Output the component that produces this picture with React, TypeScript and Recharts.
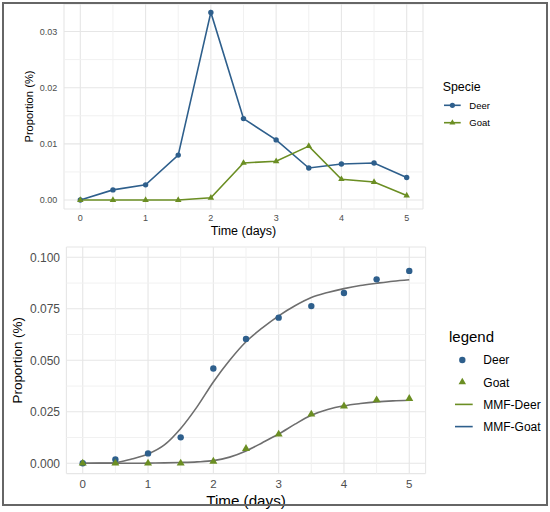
import {
  LineChart, ComposedChart, Line, Scatter, XAxis, YAxis, CartesianGrid,
  ReferenceLine, Legend, Label,
} from 'recharts'

// sampling days
const days = [0, 0.5, 1, 1.5, 2, 2.5, 3, 3.5, 4, 4.5, 5]

// top panel: proportion per sampling day
const deerDaily = [0, 0.0018, 0.0027, 0.0080, 0.0334, 0.0145, 0.0107, 0.0057, 0.0064, 0.0066, 0.0040]
const goatDaily = [0, 0, 0, 0, 0.0004, 0.0066, 0.0069, 0.0096, 0.0037, 0.0032, 0.0008]

// bottom panel: cumulative observed proportion
const deerCum = [0, 0.0019, 0.0048, 0.0126, 0.0460, 0.0604, 0.0707, 0.0763, 0.0827, 0.0893, 0.0934]
const goatCum = [0, 0, 0, 0, 0.0009, 0.0071, 0.0141, 0.0238, 0.0277, 0.0307, 0.0314]

const fitDays = [0, 0.25, 0.5, 0.75, 1, 1.25, 1.5, 1.75, 2, 2.25, 2.5, 2.75, 3, 3.25, 3.5, 3.75, 4, 4.25, 4.5, 4.75, 5]
const deerFit = [0, 0.0001, 0.0003, 0.0021, 0.0045, 0.0089, 0.0169, 0.0274, 0.0395, 0.0500, 0.0590, 0.0657, 0.0716, 0.0765, 0.0805, 0.0829, 0.0848, 0.0863, 0.0874, 0.0884, 0.0891]
const goatFit = [0, 0, 0, 0, 0.0001, 0.0002, 0.0004, 0.0007, 0.0013, 0.0030, 0.0060, 0.0100, 0.0142, 0.0190, 0.0233, 0.0261, 0.0279, 0.0290, 0.0298, 0.0303, 0.0306]

const xTicks = [0, 1, 2, 3, 4, 5]
const xMinor = [0.5, 1.5, 2.5, 3.5, 4.5]
const topTicks = [0, 0.01, 0.02, 0.03]
const topMinor = [0.005, 0.015, 0.025]
const botTicks = [0, 0.025, 0.05, 0.075, 0.1]
const botMinor = [0.0125, 0.0375, 0.0625, 0.0875]

const BLUE = '#2e5f8c'
const GREEN = '#6b8e23'
const FIT = '#6e6e6e'
const GRID = '#e6e6e6'
const GRID_MINOR = '#f1f1f1'
const TICK = '#4d4d4d'
const FONT = '"Liberation Sans", Arial, sans-serif'

const topRows = days.map((t, i) => ({ t, deer: deerDaily[i], goat: goatDaily[i] }))
const obsRows = days.map((t, i) => ({ t, deer: deerCum[i], goat: goatCum[i] }))
const fitRows = fitDays.map((t, i) => ({ t, deer: deerFit[i], goat: goatFit[i] }))

function triPath(cx: number, cy: number, side: number) {
  const top = cy - side * 0.577
  const bot = cy + side * 0.289
  return `M${cx},${top}L${cx + side / 2},${bot}L${cx - side / 2},${bot}Z`
}

const topLegend = [
  { name: 'Deer', color: BLUE, shape: 'circle' },
  { name: 'Goat', color: GREEN, shape: 'triangle' },
]
const botLegend = [
  { name: 'Deer', color: BLUE, shape: 'circle' },
  { name: 'Goat', color: GREEN, shape: 'triangle' },
  { name: 'MMF-Deer', color: GREEN, shape: 'line' },
  { name: 'MMF-Goat', color: BLUE, shape: 'line' },
]

function TopKey() {
  return (
    <svg width={110} height={60} style={{ display: 'block', fontFamily: FONT }}>
      <text x={6.7} y={17.2} fontSize={12.4} fill="#000">Specie</text>
      {topLegend.map((d, i) => {
        const y = 31.3 + i * 17.4
        return (
          <g key={d.name}>
            <line x1={8} x2={24.7} y1={y} y2={y} stroke={d.color} strokeWidth={1.6} />
            {d.shape === 'circle'
              ? <circle cx={16.4} cy={y} r={2.6} fill={d.color} />
              : <path d={triPath(16.4, y, 6)} fill={d.color} />}
            <text x={33.3} y={y + 3.4} fontSize={9.5} fill="#000">{d.name}</text>
          </g>
        )
      })}
    </svg>
  )
}

function BottomKey() {
  return (
    <svg width={110} height={120} style={{ display: 'block', fontFamily: FONT }}>
      <text x={9} y={22.1} fontSize={15} fill="#000">legend</text>
      {botLegend.map((d, i) => {
        const y = 40 + i * 22.2
        return (
          <g key={d.name}>
            {d.shape === 'circle' && <circle cx={22.3} cy={y} r={3.2} fill={d.color} />}
            {d.shape === 'triangle' && <path d={triPath(22.3, y, 7.5)} fill={d.color} />}
            {d.shape === 'line' && <line x1={15} x2={32.7} y1={y} y2={y} stroke={d.color} strokeWidth={1.6} />}
            <text x={43.3} y={y + 4.3} fontSize={12} fill="#000">{d.name}</text>
          </g>
        )
      })}
    </svg>
  )
}

function TopChart() {
  return (
    <LineChart width={550} height={240} data={topRows} margin={{ top: 4, right: 127, bottom: 0, left: 0 }} style={{ fontFamily: FONT }}>
      <CartesianGrid stroke={GRID} strokeWidth={1.1} />
      {xMinor.map(v => <ReferenceLine key={`vx${v}`} x={v} stroke={GRID_MINOR} strokeWidth={1} />)}
      {topMinor.map(v => <ReferenceLine key={`hy${v}`} y={v} stroke={GRID_MINOR} strokeWidth={1} />)}
      <XAxis
        dataKey="t" type="number" domain={[-0.25, 5.25]} ticks={xTicks} interval={0}
        height={31} axisLine={false} tickLine={false} tickSize={0} tickMargin={5.5}
        tick={{ fontSize: 9, fill: TICK }}
      >
        <Label value="Time (days)" position="insideBottom" offset={5.5} fontSize={12.5} fill="#000" />
      </XAxis>
      <YAxis
        type="number" domain={[-0.0016, 0.0349]} ticks={topTicks} allowDataOverflow
        width={64} axisLine={false} tickLine={false} tickSize={0} tickMargin={6.7}
        tick={{ fontSize: 9, fill: TICK }} tickFormatter={(v: number) => v.toFixed(2)}
      >
        <Label value="Proportion (%)" angle={-90} position="insideLeft" offset={29.5} fontSize={11.2} fill="#000" style={{ textAnchor: 'middle' }} />
      </YAxis>
      <Line
        dataKey="deer" name="Deer" stroke={BLUE} strokeWidth={1.6} isAnimationActive={false}
        dot={{ r: 2.7, fill: BLUE, stroke: BLUE, strokeWidth: 0 }} activeDot={false}
      />
      <Line
        dataKey="goat" name="Goat" stroke={GREEN} strokeWidth={1.6} isAnimationActive={false}
        dot={(p: any) => <path key={`g${p.index}`} d={triPath(p.cx, p.cy, 6.5)} fill={GREEN} />}
        activeDot={false}
      />
      <Legend layout="vertical" align="center" verticalAlign="middle" wrapperStyle={{ left: 436, top: 74, width: 110 }} content={() => <TopKey />} />
    </LineChart>
  )
}

function BottomChart() {
  return (
    <ComposedChart width={550} height={272} margin={{ top: 7, right: 124.4, bottom: 0, left: 0 }} style={{ fontFamily: FONT }}>
      <CartesianGrid stroke={GRID} strokeWidth={1.1} />
      {xMinor.map(v => <ReferenceLine key={`vx${v}`} x={v} stroke={GRID_MINOR} strokeWidth={1} />)}
      {botMinor.map(v => <ReferenceLine key={`hy${v}`} y={v} stroke={GRID_MINOR} strokeWidth={1} />)}
      <XAxis
        dataKey="t" type="number" domain={[-0.25, 5.25]} ticks={xTicks} interval={0}
        height={38.4} axisLine={false} tickLine={false} tickSize={0} tickMargin={6.2}
        tick={{ fontSize: 11.5, fill: TICK }}
      >
        <Label value="Time (days)" position="insideBottom" offset={6.4} fontSize={15.2} fill="#000" />
      </XAxis>
      <YAxis
        type="number" domain={[-0.005, 0.105]} ticks={botTicks} allowDataOverflow
        width={66.4} axisLine={false} tickLine={false} tickSize={0} tickMargin={6.4}
        tick={{ fontSize: 12, fill: TICK }} tickFormatter={(v: number) => v.toFixed(3)}
      >
        <Label value="Proportion (%)" angle={-90} position="insideLeft" offset={17.5} fontSize={13.4} fill="#000" style={{ textAnchor: 'middle' }} />
      </YAxis>
      <Line data={fitRows} dataKey="deer" name="MMF-Deer" type="monotone" stroke={FIT} strokeWidth={1.6} dot={false} activeDot={false} isAnimationActive={false} />
      <Line data={fitRows} dataKey="goat" name="MMF-Goat" type="monotone" stroke={FIT} strokeWidth={1.6} dot={false} activeDot={false} isAnimationActive={false} />
      <Scatter
        data={obsRows} dataKey="deer" name="Deer" isAnimationActive={false}
        shape={(p: any) => <circle cx={p.cx} cy={p.cy} r={3.2} fill={BLUE} />}
      />
      <Scatter
        data={obsRows} dataKey="goat" name="Goat" isAnimationActive={false}
        shape={(p: any) => <path d={triPath(p.cx, p.cy, 8)} fill={GREEN} />}
      />
      <Legend layout="vertical" align="center" verticalAlign="middle" wrapperStyle={{ left: 440, top: 80, width: 110 }} content={() => <BottomKey />} />
    </ComposedChart>
  )
}

export default function App() {
  return (
    <div style={{ position: 'absolute', left: 0, top: 0, width: 550, height: 512, background: '#fff', fontFamily: FONT }}>
      <div style={{ position: 'absolute', left: 0, top: 0 }}>
        <TopChart />
      </div>
      <div style={{ position: 'absolute', left: 0, top: 240 }}>
        <BottomChart />
      </div>
      <div style={{ position: 'absolute', left: 2, top: 2, width: 545.5, height: 504, boxSizing: 'border-box', border: '2px solid #666', pointerEvents: 'none' }} />
    </div>
  )
}
